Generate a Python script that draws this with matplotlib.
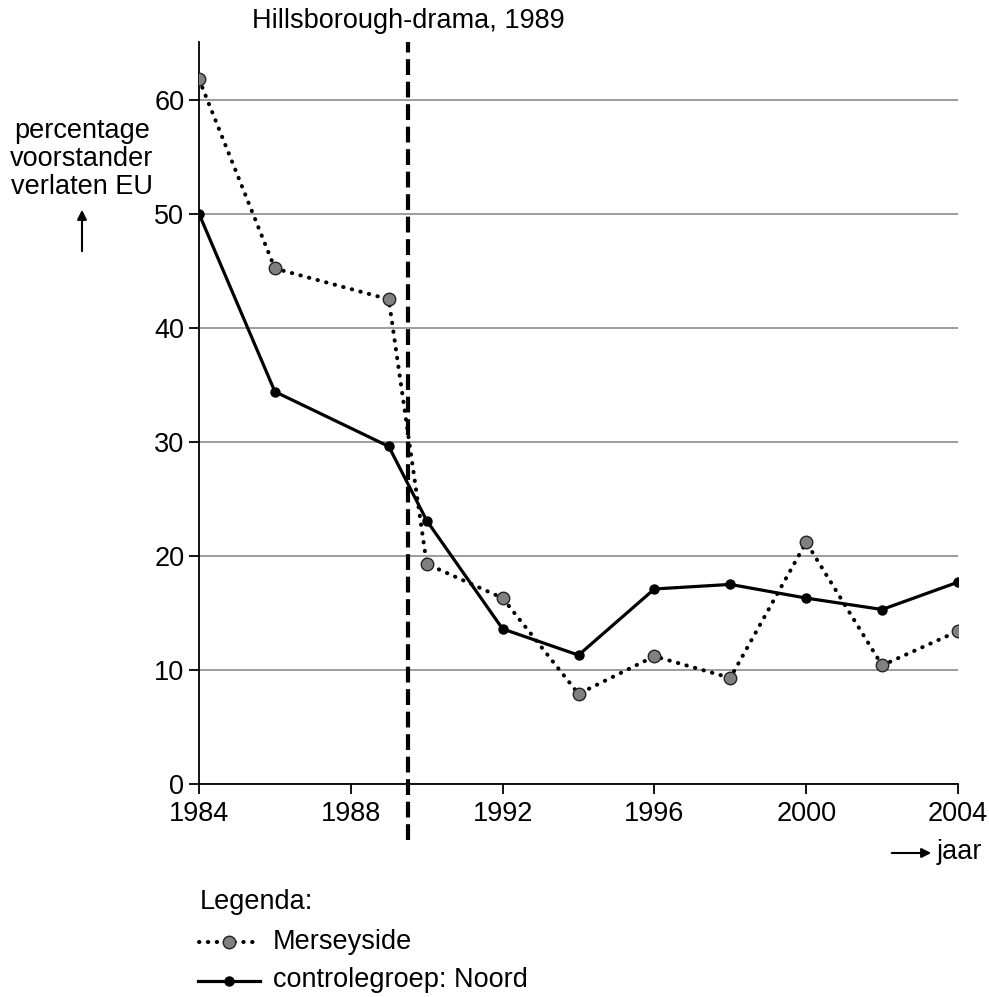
import matplotlib
matplotlib.use("Agg")
import matplotlib.pyplot as plt
from matplotlib.lines import Line2D

plt.rcParams['font.family'] = ['Liberation Sans', 'DejaVu Sans']

years_m = [1984, 1986, 1989, 1990, 1992, 1994, 1996, 1998, 2000, 2002, 2004]
merseyside = [61.8, 45.2, 42.5, 19.3, 16.3, 7.9, 11.2, 9.3, 21.2, 10.4, 13.4]
years_n = [1984, 1986, 1989, 1990, 1992, 1994, 1996, 1998, 2000, 2002, 2004]
noord = [50.0, 34.4, 29.6, 23.1, 13.6, 11.3, 17.1, 17.5, 16.3, 15.3, 17.7]
event_year = 1989.5
xticks = [1984, 1988, 1992, 1996, 2000, 2004]
yticks = [0, 10, 20, 30, 40, 50, 60]

FS = 19.5
W, H = 989, 997
fig = plt.figure(figsize=(W / 100, H / 100), dpi=100)
ax_l, ax_r, ax_b, ax_t = 199, 958, 784, 42
ax = fig.add_axes([ax_l / W, 1 - ax_b / H, (ax_r - ax_l) / W, (ax_b - ax_t) / H])

ax.set_xlim(1984, 2004)
ax.set_ylim(0, (ax_b - ax_t) / 11.405)
ax.set_xticks(xticks)
ax.set_yticks(yticks)
ax.tick_params(axis='both', direction='out', length=7.5, width=1.3, labelsize=FS, colors='black')
ax.tick_params(axis='y', pad=3)
ax.tick_params(axis='x', pad=4.5)
for s in ['top', 'right']:
    ax.spines[s].set_visible(False)
for s in ['left', 'bottom']:
    ax.spines[s].set_linewidth(1.3)
ax.yaxis.grid(True, color='#8c8c8c', linewidth=1.2)
ax.set_axisbelow(True)

dot_style = dict(color='black', linewidth=2.9, linestyle=(0, (0.1, 2.1)), dash_capstyle='round')
ax.plot(years_m, merseyside, **dot_style, zorder=3)
ax.plot(years_m, merseyside, linestyle='none', marker='o', markersize=9,
        markerfacecolor='#808080', markeredgecolor='#222222', markeredgewidth=1.0, zorder=4)
ax.plot(years_n, noord, color='black', linewidth=2.3, marker='o', markersize=6.5,
        markerfacecolor='black', markeredgecolor='black', zorder=5)

ax.axvline(event_year, ymin=-(840 - ax_b) / (ax_b - ax_t), ymax=1.0, color='black',
           linewidth=3.0, linestyle=(0, (3.8, 1.6)), clip_on=False, zorder=6)

def fx(px):
    return px / W
def fy(py):
    return 1 - py / H

fig.text(fx(408), fy(21), 'Hillsborough-drama, 1989', fontsize=FS, ha='center', va='center')
fig.text(fx(82), fy(159), 'percentage\nvoorstander\nverlaten EU', fontsize=FS, ha='center',
         va='center', linespacing=1.12)
fig.add_artist(matplotlib.patches.FancyArrowPatch((fx(82), fy(254)), (fx(82), fy(207)),
               transform=fig.transFigure, arrowstyle='-|>', mutation_scale=14,
               color='black', linewidth=1.5))
fig.add_artist(matplotlib.patches.FancyArrowPatch((fx(889), fy(853)), (fx(934), fy(853)),
               transform=fig.transFigure, arrowstyle='-|>', mutation_scale=14,
               color='black', linewidth=1.5))
fig.text(fx(937), fy(852), 'jaar', fontsize=FS, ha='left', va='center')

# legend
fig.text(fx(200), fy(902), 'Legenda:', fontsize=FS, ha='left', va='center')
fig.add_artist(Line2D([fx(199), fx(259)], [fy(942), fy(942)], transform=fig.transFigure, **dot_style))
fig.add_artist(Line2D([fx(229)], [fy(942)], transform=fig.transFigure, linestyle='none', marker='o',
                      markersize=9, markerfacecolor='#808080', markeredgecolor='#222222',
                      markeredgewidth=1.0))
fig.text(fx(273), fy(942), 'Merseyside', fontsize=FS, ha='left', va='center')
fig.add_artist(Line2D([fx(198), fx(260)], [fy(981), fy(981)], transform=fig.transFigure,
                      color='black', linewidth=2.3))
fig.add_artist(Line2D([fx(229)], [fy(981)], transform=fig.transFigure, linestyle='none', marker='o',
                      markersize=6.5, markerfacecolor='black', markeredgecolor='black'))
fig.text(fx(273), fy(980), 'controlegroep: Noord', fontsize=FS, ha='left', va='center')

fig.savefig('out.png', dpi=100)
